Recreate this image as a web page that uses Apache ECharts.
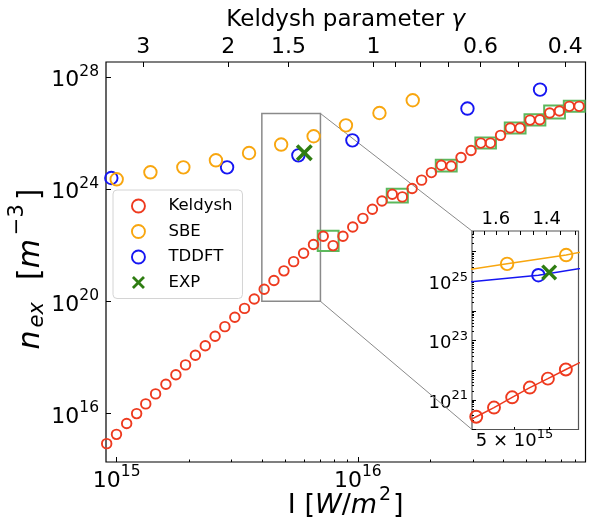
<!DOCTYPE html>
<html>
<head>
<meta charset="utf-8">
<script src="https://cdn.jsdelivr.net/npm/echarts@6/dist/echarts.min.js"></script>
<style>
  html, body { margin: 0; padding: 0; background: #fff; }
  #chart { width: 589px; height: 521px; }
</style>
</head>
<body>
<div id="chart"></div>
<script>
// ---- data: excitation density n_ex [m^-3] versus intensity I [W/m^2] ----
const keldyshI = [9.09e14, 9.98e14, 1.10e15, 1.21e15, 1.32e15, 1.45e15, 1.60e15, 1.76e15, 1.93e15, 2.12e15,
                  2.33e15, 2.56e15, 2.81e15, 3.09e15, 3.39e15, 3.72e15, 4.09e15, 4.49e15, 4.94e15, 5.42e15,
                  5.96e15, 6.55e15, 7.19e15, 7.90e15, 8.68e15, 9.53e15, 1.05e16, 1.15e16, 1.26e16, 1.39e16,
                  1.53e16, 1.68e16, 1.84e16, 2.02e16, 2.22e16, 2.44e16, 2.68e16, 2.95e16, 3.24e16, 3.55e16,
                  3.91e16, 4.29e16, 4.71e16, 5.18e16, 5.69e16, 6.25e16, 6.86e16, 7.54e16, 8.28e16, 9.10e16];
const keldyshN = [8.4e14, 1.8e15, 4.4e15, 9.9e15, 2.2e16, 5.0e16, 1.1e17, 2.4e17, 5.4e17, 1.19e18,
                  2.6e18, 5.7e18, 1.25e19, 2.7e19, 5.6e19, 1.21e20, 2.7e20, 5.5e20, 1.22e21, 2.6e21,
                  5.2e21, 1.06e22, 2.1e22, 9.7e21, 2.1e22, 4.5e22, 9.1e22, 1.91e23, 3.8e23, 6.6e23,
                  5.3e23, 1.05e24, 2.1e24, 3.9e24, 7.1e24, 6.7e24, 1.34e25, 2.4e25, 4.4e25, 4.4e25,
                  8.3e25, 1.52e26, 1.52e26, 2.9e26, 3.0e26, 5.2e26, 6.1e26, 9.0e26, 9.0e26, 1.74e27];
const sbeI = [1.00e15, 1.38e15, 1.89e15, 2.58e15, 3.54e15, 4.81e15, 6.56e15, 8.93e15, 1.23e16, 1.69e16];
const sbeN = [2.25e24, 4.0e24, 6.0e24, 1.07e25, 1.95e25, 3.9e25, 7.7e25, 1.89e26, 5.2e26, 1.48e27];
const tddftI = [9.5e14, 2.87e15, 5.67e15, 9.5e15, 2.85e16, 5.7e16];
const tddftN = [2.5e24, 6.0e24, 1.61e25, 5.5e25, 7.5e26, 3.56e27];
const expI = [6.0e15];
const expN = [2.0e25];

// neighbouring Keldysh points that are outlined together (indices into keldyshI/N)
const boxedPairs = [[22, 23], [29, 30], [34, 35], [38, 39], [41, 42], [43, 44], [45, 46], [47, 48]];

// ---- axes ----
const xRange = [9.03e14, 8.80e16];
const yRange = [1.86e14, 3.43e28];
const zoomX = [4e15, 7e15];
const zoomY = [1e20, 5e26];
const intensityAtGammaOne = 1.161e16;   // Keldysh parameter gamma = sqrt(I1 / I)
const xMajor = [1e15, 1e16];
const xMinor = [2e15, 3e15, 4e15, 5e15, 6e15, 7e15, 8e15, 9e15, 2e16, 3e16, 4e16, 5e16, 6e16, 7e16, 8e16];
const yMajor = [1e16, 1e20, 1e24, 1e28];
const gammaTicks = [3, 2, 1.5, 1, 0.9, 0.8, 0.7, 0.6, 0.5, 0.4];
const gammaLabels = [3, 2, 1.5, 1, 0.6, 0.4];
const zoomGammaTicks = [1.7, 1.65, 1.6, 1.55, 1.5, 1.45, 1.4, 1.35, 1.3];
const zoomGammaLabels = [1.6, 1.4];
const zoomXLabels = [5e15];
const zoomXTicks = [5e15, 6e15];
const zoomYMajor = [1e20, 1e21, 1e22, 1e23, 1e24, 1e25, 1e26];
const zoomYLabels = [1e21, 1e23, 1e25];
const zoomYMinor = [];
for (let e = 20; e <= 26; e++) for (let m = 2; m <= 9; m++) zoomYMinor.push(m * Math.pow(10, e));

const FONT = 'DejaVu Sans';
const RED = '#ee3a1f', ORANGE = '#f8a60f', BLUE = '#1616f2', GREEN = '#2f7d12', BOXGREEN = '#5cb85c';
const X_PATH = 'path://M0,3 L3,0 L10,7 L17,0 L20,3 L13,10 L20,17 L17,20 L10,13 L3,20 L0,17 L7,10 Z';

const gamma = I => Math.sqrt(intensityAtGammaOne / I);
const pairs = (xs, ys) => xs.map((x, i) => [x, ys[i]]);
const pow10 = v => '{b|10}{s|' + Math.round(Math.log10(v)) + '}';

function powRich(base, sup, raise) {
  return {
    b: { fontFamily: FONT, fontSize: base, color: '#000', lineHeight: base + 2 },
    s: { fontFamily: FONT, fontSize: sup, color: '#000', lineHeight: sup + 1, padding: [0, 0, 2 * raise, 0] }
  };
}

function ticksOnly(extra) {
  return Object.assign({
    type: 'log', logBase: 10, axisLine: { show: false, onZero: false },
    axisLabel: { show: false }, splitLine: { show: false }, nameMoveOverlap: false
  }, extra);
}

const tickLine = { color: '#000', width: 1 };
const ring = color => ({ color: 'transparent', borderColor: color, borderWidth: 1.9, opacity: 1 });

const chart = echarts.init(document.getElementById('chart'), null, { renderer: 'canvas', width: 589, height: 521 });

const option = {
  animation: false,
  backgroundColor: '#fff',
  grid: [
    { left: 106, top: 62, width: 479.5, height: 400, show: true, borderColor: '#000', borderWidth: 1.2,
      backgroundColor: 'transparent', containLabel: false, outerBoundsMode: 'none' },
    { left: 472, top: 231, width: 106.5, height: 198.5, show: true, borderColor: '#555', borderWidth: 1.2,
      backgroundColor: '#fff', containLabel: false, outerBoundsMode: 'none' }
  ],
  xAxis: [
    // 0: main intensity axis
    ticksOnly({
      gridIndex: 0, position: 'bottom', min: xRange[0], max: xRange[1],
      axisTick: { inside: true, length: 5, lineStyle: tickLine, customValues: xMajor },
      axisLabel: { show: true, margin: 7, customValues: xMajor, formatter: pow10, rich: powRich(22, 15.5, 9) },
      name: '{t|I [}{i|W}{t|/}{i|m}{s|2}{t|]}', nameLocation: 'middle', nameGap: 29,
      nameTextStyle: {
        rich: {
          t: { fontFamily: FONT, fontSize: 27, color: '#000', lineHeight: 30 },
          i: { fontFamily: FONT, fontSize: 27, fontStyle: 'italic', color: '#000', lineHeight: 30 },
          s: { fontFamily: FONT, fontSize: 19, color: '#000', lineHeight: 19, padding: [0, 2, 22, 2] }
        }
      }
    }),
    // 1: minor ticks of the intensity axis
    ticksOnly({
      gridIndex: 0, position: 'bottom', min: xRange[0], max: xRange[1],
      axisTick: { inside: true, length: 2.5, lineStyle: tickLine, customValues: xMinor }
    }),
    // 2: Keldysh parameter on top
    ticksOnly({
      gridIndex: 0, position: 'top', inverse: true, min: gamma(xRange[1]), max: gamma(xRange[0]),
      axisTick: { inside: true, length: 5, lineStyle: tickLine, customValues: gammaTicks },
      axisLabel: { show: true, margin: 4, customValues: gammaLabels, fontFamily: FONT, fontSize: 22, color: '#000',
                   formatter: v => String(+(+v).toFixed(2)) },
      name: 'Keldysh parameter {i|γ}', nameLocation: 'middle', nameGap: 28,
      nameTextStyle: { fontFamily: FONT, fontSize: 23, color: '#000', lineHeight: 28,
                       rich: { i: { fontFamily: FONT, fontSize: 23, fontStyle: 'italic', color: '#000', lineHeight: 28 } } }
    }),
    // 3: inset intensity axis
    ticksOnly({
      gridIndex: 1, position: 'bottom', min: zoomX[0], max: zoomX[1],
      axisTick: { inside: true, length: 2.5, lineStyle: tickLine, customValues: zoomXTicks },
      axisLabel: { show: true, margin: 2, customValues: zoomXLabels,
                   formatter: v => '{b|' + Math.round(v / 1e15) + ' × 10}{s|15}', rich: powRich(18, 13, 7) }
    }),
    // 4: inset Keldysh parameter
    ticksOnly({
      gridIndex: 1, position: 'top', inverse: true, min: gamma(zoomX[1]), max: gamma(zoomX[0]),
      axisTick: { inside: true, length: 4, lineStyle: tickLine, customValues: zoomGammaTicks },
      axisLabel: { show: true, margin: 3, customValues: zoomGammaLabels, fontFamily: FONT, fontSize: 18, color: '#000',
                   formatter: v => (+v).toFixed(1) }
    })
  ],
  yAxis: [
    // 0: main density axis
    ticksOnly({
      gridIndex: 0, position: 'left', min: yRange[0], max: yRange[1],
      axisTick: { inside: true, length: 5, lineStyle: tickLine, customValues: yMajor },
      axisLabel: { show: true, margin: 7, customValues: yMajor, formatter: pow10, padding: [7, 0, 0, 0],
                   rich: powRich(22, 15.5, 9) },
      name: '{i|n}{d|ex}{t|  [}{i|m}{s|−3}{t|]}', nameLocation: 'middle', nameRotate: 90, nameGap: 58,
      nameTextStyle: {
        padding: [0, 14, 0, 0],
        rich: {
          t: { fontFamily: FONT, fontSize: 30, color: '#000', lineHeight: 34 },
          i: { fontFamily: FONT, fontSize: 30, fontStyle: 'italic', color: '#000', lineHeight: 34 },
          d: { fontFamily: FONT, fontSize: 21, fontStyle: 'italic', color: '#000', lineHeight: 22, padding: [13, 3, 0, 3] },
          s: { fontFamily: FONT, fontSize: 21, color: '#000', lineHeight: 22, padding: [0, 4, 26, 4] }
        }
      }
    }),
    // 1: inset density axis
    ticksOnly({
      gridIndex: 1, position: 'left', min: zoomY[0], max: zoomY[1],
      axisTick: { inside: true, length: 4, lineStyle: tickLine, customValues: zoomYMajor },
      axisLabel: { show: true, margin: 4, customValues: zoomYLabels, formatter: pow10, padding: [6, 0, 0, 0],
                   rich: powRich(18, 13, 7) }
    }),
    // 2: inset density minor ticks
    ticksOnly({
      gridIndex: 1, position: 'left', min: zoomY[0], max: zoomY[1],
      axisTick: { inside: true, length: 2, lineStyle: tickLine, customValues: zoomYMinor }
    })
  ],
  legend: {
    left: 113, top: 190, orient: 'vertical',
    padding: [6, 10, 6, 18], itemGap: 5.5, itemWidth: 26, itemHeight: 13,
    backgroundColor: '#fff', borderColor: '#d4d4d4', borderWidth: 1, borderRadius: 4,
    textStyle: { fontFamily: FONT, fontSize: 16.5, color: '#000', lineHeight: 20, padding: [0, 0, 0, 12] },
    data: [
      { name: 'Keldysh', icon: 'circle', itemStyle: ring(RED) },
      { name: 'SBE', icon: 'circle', itemStyle: ring(ORANGE) },
      { name: 'TDDFT', icon: 'circle', itemStyle: ring(BLUE) },
      { name: 'EXP', icon: X_PATH, itemStyle: { color: GREEN, borderWidth: 0, opacity: 1 } }
    ]
  },
  series: [
    // main panel
    { name: 'Keldysh', type: 'scatter', xAxisIndex: 0, yAxisIndex: 0, data: pairs(keldyshI, keldyshN),
      symbol: 'circle', symbolSize: 9.5, itemStyle: ring(RED), z: 4 },
    { name: 'SBE', type: 'scatter', xAxisIndex: 0, yAxisIndex: 0, data: pairs(sbeI, sbeN),
      symbol: 'circle', symbolSize: 12.5, itemStyle: ring(ORANGE), z: 4 },
    { name: 'TDDFT', type: 'scatter', xAxisIndex: 0, yAxisIndex: 0, data: pairs(tddftI, tddftN),
      symbol: 'circle', symbolSize: 12.5, itemStyle: ring(BLUE), z: 3 },
    { name: 'EXP', type: 'scatter', xAxisIndex: 0, yAxisIndex: 0, data: pairs(expI, expN),
      symbol: X_PATH, symbolSize: 17, itemStyle: { color: GREEN, opacity: 1 }, z: 5 },
    // outlines around neighbouring Keldysh points
    { type: 'custom', xAxisIndex: 0, yAxisIndex: 0, silent: true, z: 3,
      data: boxedPairs.map(([a, b]) => [keldyshI[a], keldyshN[a], keldyshI[b], keldyshN[b]]),
      encode: { x: [0, 2], y: [1, 3] },
      renderItem: (params, api) => {
        const p = api.coord([api.value(0), api.value(1)]);
        const q = api.coord([api.value(2), api.value(3)]);
        const pad = 5.5;
        const x0 = Math.min(p[0], q[0]) - pad, x1 = Math.max(p[0], q[0]) + pad;
        const y0 = Math.min(p[1], q[1]) - pad, y1 = Math.max(p[1], q[1]) + pad;
        return { type: 'rect', shape: { x: x0, y: y0, width: x1 - x0, height: y1 - y0 },
                 style: { fill: 'none', stroke: BOXGREEN, lineWidth: 2 } };
      } },
    // zoomed region marker
    { type: 'custom', xAxisIndex: 0, yAxisIndex: 0, silent: true, z: 2,
      data: [[zoomX[0], zoomY[0], zoomX[1], zoomY[1]]],
      encode: { x: [0, 2], y: [1, 3] },
      renderItem: (params, api) => {
        const p = api.coord([api.value(0), api.value(1)]);
        const q = api.coord([api.value(2), api.value(3)]);
        return { type: 'rect', shape: { x: p[0], y: q[1], width: q[0] - p[0], height: p[1] - q[1] },
                 style: { fill: 'none', stroke: '#8a8a8a', lineWidth: 1.5 } };
      } },
    // inset panel
    { name: 'Keldysh', type: 'line', xAxisIndex: 3, yAxisIndex: 1, data: pairs(keldyshI, keldyshN),
      symbol: 'circle', symbolSize: 12, showAllSymbol: true, lineStyle: { color: RED, width: 1.5 },
      itemStyle: ring(RED), z: 4 },
    { name: 'SBE', type: 'line', xAxisIndex: 3, yAxisIndex: 1, data: pairs(sbeI, sbeN),
      symbol: 'circle', symbolSize: 12.5, showAllSymbol: true, lineStyle: { color: ORANGE, width: 1.5 },
      itemStyle: ring(ORANGE), z: 4 },
    { name: 'TDDFT', type: 'line', xAxisIndex: 3, yAxisIndex: 1, data: pairs(tddftI, tddftN),
      symbol: 'circle', symbolSize: 12.5, showAllSymbol: true, lineStyle: { color: BLUE, width: 1.5 },
      itemStyle: ring(BLUE), z: 3 },
    { name: 'EXP', type: 'scatter', xAxisIndex: 3, yAxisIndex: 1, data: pairs(expI, expN),
      symbol: X_PATH, symbolSize: 16, itemStyle: { color: GREEN, opacity: 1 }, z: 5 }
  ]
};

chart.setOption(option);

// connectors from the marked region to the inset corners
const mainFinder = { xAxisIndex: 0, yAxisIndex: 0 };
const insetFinder = { xAxisIndex: 3, yAxisIndex: 1 };
const a = chart.convertToPixel(mainFinder, [zoomX[1], zoomY[1]]);
const b = chart.convertToPixel(insetFinder, [zoomX[0], zoomY[1]]);
const c = chart.convertToPixel(mainFinder, [zoomX[1], zoomY[0]]);
const d = chart.convertToPixel(insetFinder, [zoomX[0], zoomY[0]]);
chart.setOption({
  graphic: [
    { type: 'line', silent: true, z: 1, shape: { x1: a[0], y1: a[1], x2: b[0], y2: b[1] },
      style: { stroke: '#8a8a8a', lineWidth: 1 } },
    { type: 'line', silent: true, z: 1, shape: { x1: c[0], y1: c[1], x2: d[0], y2: d[1] },
      style: { stroke: '#8a8a8a', lineWidth: 1 } }
  ]
});
</script>
</body>
</html>
